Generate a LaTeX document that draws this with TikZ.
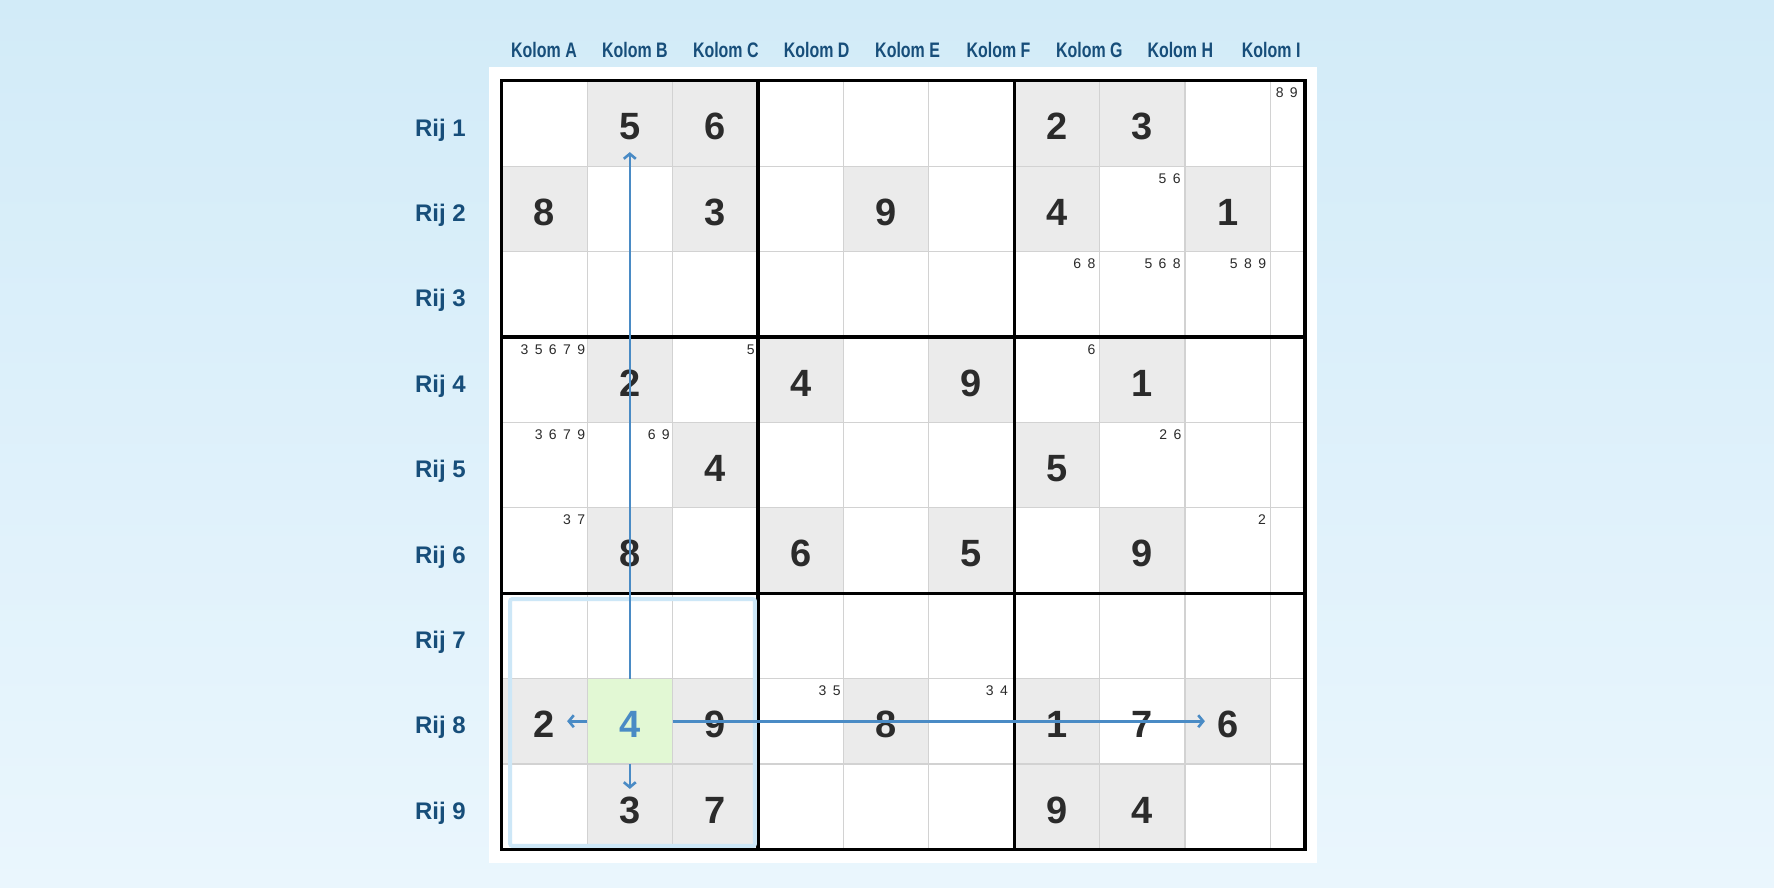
\documentclass[tikz,border=0pt]{standalone}
\usepackage{fontspec}
\setmainfont{Liberation Sans}
\newfontfamily\kolomfont[FakeStretch=0.76]{Liberation Sans}
\newfontfamily\potloodfont[WordSpace=1.65]{Liberation Sans}
\usetikzlibrary{arrows.meta}

\definecolor{achtergrondboven}{HTML}{D2EBF8}
\definecolor{achtergrondonder}{HTML}{EAF6FD}
\definecolor{labelblauw}{HTML}{174E7A}
\definecolor{vakgrijs}{HTML}{EBEBEB}
\definecolor{lijngrijs}{HTML}{D2D2D2}
\definecolor{vakgroen}{HTML}{E2F8D4}
\definecolor{pijlblauw}{HTML}{4A8BC5}
\definecolor{blokblauw}{HTML}{CDE7F7}
\definecolor{cijferzwart}{HTML}{2B2B2B}

\begin{document}
\begin{tikzpicture}[x=1pt, y=-1pt,
  kolom/.style={anchor=base, inner sep=0pt, text=labelblauw, font=\kolomfont\bfseries\fontsize{21}{21}\selectfont},
  rij/.style={anchor=base east, inner sep=0pt, text=labelblauw, font=\bfseries\fontsize{24}{24}\selectfont},
  vak/.style={minimum size=85.4pt, inner sep=0pt, outer sep=0pt, text height=33pt, text depth=0pt, text=cijferzwart, font=\bfseries\fontsize{38}{38}\selectfont},
  gegeven/.style={vak, fill=vakgrijs},
  gekozen/.style={vak, fill=vakgroen, text=pijlblauw},
  potlood/.style={anchor=north east, inner sep=0pt, text=cijferzwart, font=\potloodfont\fontsize{14}{14}\selectfont},
  dun/.style={draw=lijngrijs, line width=1.2pt},
  dik/.style={draw=black, line width=3.2pt},
  pijl/.style={draw=pijlblauw, line width=2.6pt, -{Straight Barb[length=5pt, width=12pt]}}]

\useasboundingbox (0,0) rectangle (1774,887);
\shade[top color=achtergrondboven, bottom color=achtergrondonder] (0,0) rectangle (1774,887); % achtergrond
\fill[white] (489,67) rectangle (1317,863); % paneel

\node[kolom] (kolA) at (544,57) {Kolom A};
\node[kolom] (kolB) at (634.9,57) {Kolom B};
\node[kolom] (kolC) at (725.8,57) {Kolom C};
\node[kolom] (kolD) at (816.7,57) {Kolom D};
\node[kolom] (kolE) at (907.6,57) {Kolom E};
\node[kolom] (kolF) at (998.5,57) {Kolom F};
\node[kolom] (kolG) at (1089.4,57) {Kolom G};
\node[kolom] (kolH) at (1180.3,57) {Kolom H};
\node[kolom] (kolI) at (1271.2,57) {Kolom I};

\node[rij] (rij1) at (466,136) {Rij 1};
\node[rij] (rij2) at (466,221.4) {Rij 2};
\node[rij] (rij3) at (466,306.8) {Rij 3};
\node[rij] (rij4) at (466,392.2) {Rij 4};
\node[rij] (rij5) at (466,477.6) {Rij 5};
\node[rij] (rij6) at (466,563) {Rij 6};
\node[rij] (rij7) at (466,648.4) {Rij 7};
\node[rij] (rij8) at (466,733.8) {Rij 8};
\node[rij] (rij9) at (466,819.2) {Rij 9};

\begin{scope}[shift={(501.7,80.7)}, x=85.4pt, y=-85.4pt]
% gegeven cijfers
\node[gegeven] (r1b) at (1.5,0.5) {5}; % Rij.1
\node[gegeven] (r1c) at (2.5,0.5) {6};
\node[gegeven] (r1g) at (6.5,0.5) {2};
\node[gegeven] (r1h) at (7.5,0.5) {3};
\node[gegeven] (r2a) at (0.5,1.5) {8}; % Rij.2
\node[gegeven] (r2c) at (2.5,1.5) {3};
\node[gegeven] (r2e) at (4.5,1.5) {9};
\node[gegeven] (r2g) at (6.5,1.5) {4};
\node[gegeven] (r2i) at (8.5,1.5) {1};
\node[gegeven] (r4b) at (1.5,3.5) {2}; % Rij.4
\node[gegeven] (r4d) at (3.5,3.5) {4};
\node[gegeven] (r4f) at (5.5,3.5) {9};
\node[gegeven] (r4h) at (7.5,3.5) {1};
\node[gegeven] (r5c) at (2.5,4.5) {4}; % Rij.5
\node[gegeven] (r5g) at (6.5,4.5) {5};
\node[gegeven] (r6b) at (1.5,5.5) {8}; % Rij.6
\node[gegeven] (r6d) at (3.5,5.5) {6};
\node[gegeven] (r6f) at (5.5,5.5) {5};
\node[gegeven] (r6h) at (7.5,5.5) {9};
\node[gegeven] (r8a) at (0.5,7.5) {2}; % Rij.8
\node[gekozen]  (r8b) at (1.5,7.5) {4};
\node[gegeven] (r8c) at (2.5,7.5) {9};
\node[gegeven] (r8e) at (4.5,7.5) {8};
\node[gegeven] (r8g) at (6.5,7.5) {1};
\node[vak]     (r8h) at (7.5,7.5) {7};
\node[gegeven] (r8i) at (8.5,7.5) {6};
\node[gegeven] (r9b) at (1.5,8.5) {3}; % Rij.9
\node[gegeven] (r9c) at (2.5,8.5) {7};
\node[gegeven] (r9g) at (6.5,8.5) {9};
\node[gegeven] (r9h) at (7.5,8.5) {4};

% potloodcijfers
\node[potlood] (p1j) at (9.324,0.085) {8 9};
\node[potlood] (p2h) at (7.953,1.085) {5 6};
\node[potlood] (p3g) at (6.953,2.085) {6 8};
\node[potlood] (p3h) at (7.953,2.085) {5 6 8};
\node[potlood] (p3i) at (8.953,2.085) {5 8 9};
\node[potlood] (p4a) at (0.98,3.085) {3 5 6 7 9};
\node[potlood] (p4c) at (2.965,3.085) {5};
\node[potlood] (p4g) at (6.953,3.085) {6};
\node[potlood] (p5a) at (0.98,4.085) {3 6 7 9};
\node[potlood] (p5b) at (1.97,4.085) {6 9};
\node[potlood] (p5h) at (7.96,4.085) {2 6};
\node[potlood] (p6a) at (0.98,5.085) {3 7};
\node[potlood] (p6i) at (8.95,5.085) {2};
\node[potlood] (p8d) at (3.97,7.085) {3 5};
\node[potlood] (p8f) at (5.93,7.085) {3 4};

% rooster
\draw[dun] (1,0) -- (1,9);
\draw[dun] (2,0) -- (2,9);
\draw[dun] (4,0) -- (4,9);
\draw[dun] (5,0) -- (5,9);
\draw[dun] (7,0) -- (7,9);
\draw[dun] (8,0) -- (8,9);
\draw[dun] (9,0) -- (9,9);
\draw[dun] (0,1) -- (9.406,1);
\draw[dun] (0,2) -- (9.406,2);
\draw[dun] (0,4) -- (9.406,4);
\draw[dun] (0,5) -- (9.406,5);
\draw[dun] (0,7) -- (9.406,7);
\draw[dun] (0,8) -- (9.406,8);
\draw[dik] (3,0) -- (3,9);
\draw[dik] (6,0) -- (6,9);
\draw[dik] (0,3) -- (9.406,3);
\draw[dik] (0,6) -- (9.406,6);
\draw[dik] (0,0) rectangle (9.406,9);
\draw[blokblauw, line width=4pt, rounded corners=2pt] (0.1,6.07) rectangle (2.965,8.96); % blok 7
\end{scope}

% pijlen vanuit het gekozen vak
\draw[pijl] (r8b.north) -- ([yshift=14pt]r1b.south);
\draw[pijl] (r8b.west) -- ([xshift=-20pt]r8a.east);
\draw[pijl] (r8b.south) -- ([yshift=-25pt]r9b.north);
\draw[pijl] (r8b.east) -- ([xshift=20pt]r8i.west);

\end{tikzpicture}
\end{document}
